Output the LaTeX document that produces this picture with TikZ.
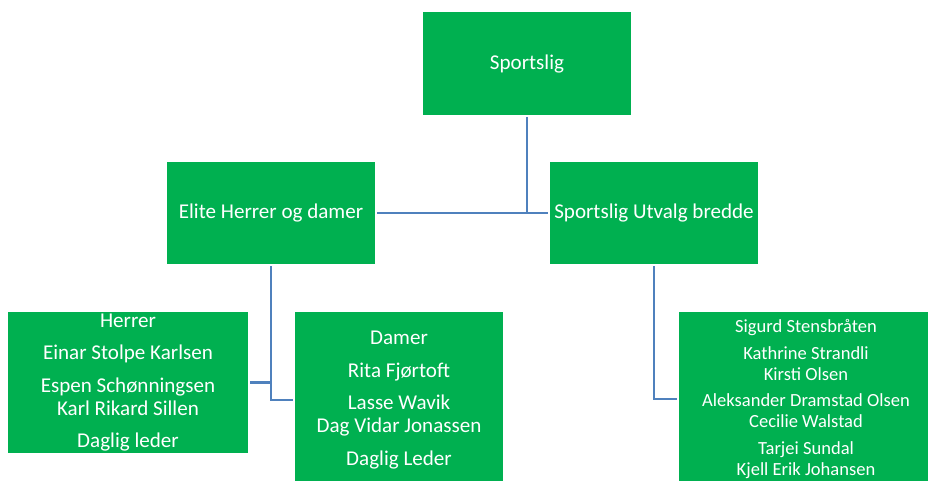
\documentclass[tikz,border=0pt]{standalone}
\usepackage{fontspec}
\setmainfont{Carlito}
\definecolor{boxgreen}{HTML}{00B050}
\definecolor{linkblue}{HTML}{4F81BD}
\begin{document}
\begin{tikzpicture}[x=0.75pt,y=-0.75pt,
        box/.style={fill=boxgreen,text=white,align=center,inner sep=0pt,outer sep=1.5pt},
        link/.style={draw=linkblue,line width=2.2pt},
        bigtext/.style={font=\fontsize{15.8}{17.3}\selectfont},
        smalltext/.style={font=\fontsize{13.9}{15.6}\selectfont}]
        \useasboundingbox (0,0) rectangle (928,481);
        %% Top level
        \node[box,bigtext,minimum width=156pt,minimum height=77.25pt] (sport) at (527,63.5) {Sportslig};
        %% Second level
        \node[box,bigtext,minimum width=156pt,minimum height=76.5pt] (elite) at (271,213) {Elite Herrer og damer};
        \node[box,bigtext,minimum width=156pt,minimum height=76.5pt] (bredde) at (654,213) {Sportslig Utvalg bredde};
        %% Third level
        \node[box,bigtext,minimum width=180pt,minimum height=105.75pt] (herrer) at (128,382.5)
            {Herrer\\[7pt] Einar Stolpe Karlsen\\[7pt] Espen Schønningsen\\ Karl Rikard Sillen\\[7pt] Daglig leder};
        \node[box,bigtext,minimum width=156pt,minimum height=132pt] (damer) at (399,400)
            {Damer\\[7pt] Rita Fjørtoft\\[7pt] Lasse Wavik\\ Dag Vidar Jonassen\\[7pt] Daglig Leder};
        \node[box,smalltext,minimum width=190.5pt,minimum height=130.5pt] (utvalg) at (806,399)
            {Sigurd Stensbråten\\[4.5pt] Kathrine Strandli\\ Kirsti Olsen\\[4.5pt] Aleksander Dramstad Olsen\\ Cecilie Walstad\\[4.5pt] Tarjei Sundal\\ Kjell Erik Johansen};
        %% Connectors
        \draw[link] (sport.south) -- (sport.south |- elite.east);
        \draw[link] (elite.east) -- (bredde.west);
        \draw[link] (elite.south) |- (damer.west);
        \draw[link] (herrer.east) -- (herrer.east -| elite.south);
        \draw[link] (bredde.south) |- (utvalg.west);
    \end{tikzpicture}
\end{document}
